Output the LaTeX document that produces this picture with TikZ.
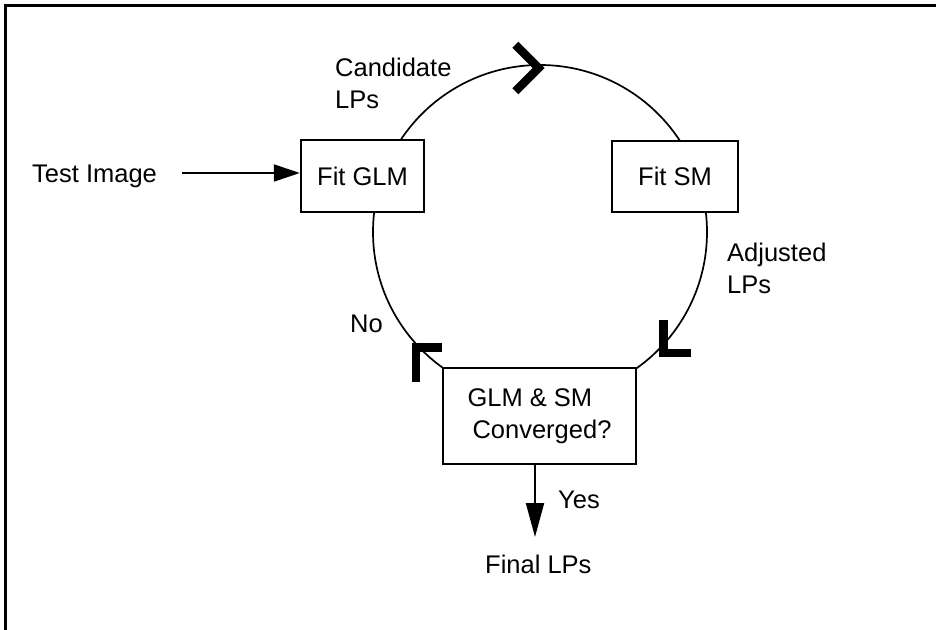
\documentclass[tikz,border=0pt]{standalone}
\usepackage{fontspec}
\setmainfont{Liberation Sans}
\usetikzlibrary{arrows.meta,calc}
\begin{document}
\begin{tikzpicture}[x=1pt,y=1pt,
  every node/.style={font=\fontsize{25.5}{31.6}\selectfont},
  stage/.style={draw=black, line width=2.4pt, fill=white, inner sep=0pt},
  lbl/.style={inner sep=0pt, anchor=base west},
  ring/.style={line width=1.7pt},
  chevron/.style={line width=8.5pt, miter limit=10, line join=miter, line cap=butt},
  flow/.style={line width=2pt}
]
\useasboundingbox (0,0) rectangle (936,629);
\clip (0,0) rectangle (936,629);
% outer frame
\draw[line width=3pt] (5,623) rectangle (960,-30);
% the iteration loop
\coordinate (hub) at (540,397);
\draw[ring] (hub) circle[radius=167pt];
% stages
\node[stage, minimum width=123pt, minimum height=72pt] (glm) at (362.5,453) {Fit GLM};
\node[stage, minimum width=126pt, minimum height=71pt] (sm) at (675,452.5) {Fit SM};
\node[stage, minimum width=193pt, minimum height=96pt, align=left] (conv) at (539.5,213)
  {GLM \& SM\\\hspace*{5pt}Converged?};
% direction marks on the loop
\draw[chevron] (515.3,584.3) -- (538.6,561) -- (515.3,537.7);
\draw[chevron] (663.5,309) -- (663.5,276) -- (691,276);
\draw[chevron] (416,247) -- (416,281.5) -- (442,281.5);
% labels
\node[lbl] (test) at (32,446) {Test Image};
\node[lbl] (cand) at (335,552) {\vtop{\hbox{Candidate}\hbox{LPs}}};
\node[lbl] (adj) at (727,367) {\vtop{\hbox{Adjusted}\hbox{LPs}}};
\node[lbl] (no) at (350,296) {No};
\node[lbl] (yes) at (558,121) {Yes};
\node[lbl] (final) at (485,56) {Final LPs};
% input and output arrows
\coordinate (feed) at (182,456);
\draw[flow,-{Triangle[length=26pt,width=17pt]}] (feed) -- (feed -| glm.west);
\coordinate (out) at (535,92);
\draw[flow,-{Triangle[length=34pt,width=18pt]}] (out |- conv.south) -- (out);
\end{tikzpicture}
\end{document}
